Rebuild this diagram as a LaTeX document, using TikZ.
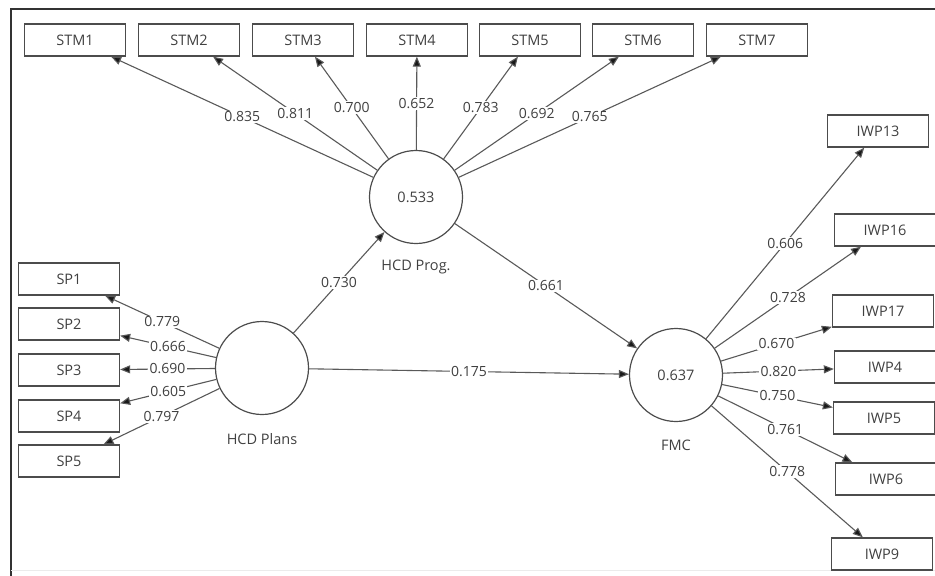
\documentclass[tikz,border=0pt]{standalone}
\usepackage{fontspec}
\setmainfont{Open Sans}
\usetikzlibrary{arrows.meta}
\begin{document}
\begin{tikzpicture}[
    x=1pt, y=-1pt,
    indicator/.style={draw=black!70, line width=1.3pt, minimum width=101pt, minimum height=32pt, inner sep=0pt, font=\fontsize{14.5}{16}\selectfont, text=black!75},
    construct/.style={circle, draw=black!70, line width=1.2pt, minimum size=93pt, inner sep=0pt, font=\fontsize{14.5}{16}\selectfont, text=black!75},
    cname/.style={font=\fontsize{14.5}{16}\selectfont, text=black!75},
    loading/.style={draw=black!65, line width=1.1pt, -{Triangle[length=10pt,width=8pt,fill=black!90]}},
    weight/.style={midway, fill=white, inner sep=1.2pt, font=\fontsize{14}{15}\selectfont, text=black!75},
  ]
    \useasboundingbox (0,0) rectangle (935,576);
    % Frame
    \draw[black!80, line width=1.3pt] (935,9) -- (11,9) -- (11,576);
    \draw[black!8, line width=1pt] (11,570) -- (935,570);

    % Constructs
    \node[construct] (prog) at (416,197) {0.533};
    \node[cname] (progname) at (416,267) {HCD Prog.};
    \node[construct] (plans) at (262,368) {};
    \node[cname] (plansname) at (262,439) {HCD Plans};
    \node[construct] (fmc) at (676,375) {0.637};
    \node[cname] (fmcname) at (676,445) {FMC};

    % Indicators of HCD Prog.
    \foreach \i/\x in {1/75,2/189,3/303,4/417,5/530,6/643,7/757} {
      \node[indicator] (stm\i) at (\x,40) {STM\i};
    }
    % Indicators of HCD Plans
    \foreach \i/\y in {1/279,2/324,3/370,4/416,5/461} {
      \node[indicator] (sp\i) at (69,\y) {SP\i};
    }
    % Indicators of FMC
    \foreach \i/\x/\y in {13/878/131,16/885/230,17/883/311,4/885/367,5/884/418,6/886/479,9/882/554} {
      \node[indicator] (iwp\i) at (\x,\y) {IWP\i};
    }

    % Outer loadings
    \foreach \i/\w in {1/0.835,2/0.811,3/0.700,4/0.652,5/0.783,6/0.692,7/0.765} {
      \draw[loading] (prog) -- (stm\i) node[weight] {\w};
    }
    \foreach \i/\w in {1/0.779,2/0.666,3/0.690,4/0.605,5/0.797} {
      \draw[loading] (plans) -- (sp\i) node[weight] {\w};
    }
    \foreach \i/\w in {13/0.606,16/0.728,17/0.670,4/0.820,5/0.750,6/0.761,9/0.778} {
      \draw[loading] (fmc) -- (iwp\i) node[weight] {\w};
    }

    % Path coefficients
    \draw[loading] (plans) -- (prog) node[weight] {0.730};
    \draw[loading] (prog) -- (fmc) node[weight] {0.661};
    \draw[loading] (plans) -- (fmc) node[weight] {0.175};
  \end{tikzpicture}
\end{document}
